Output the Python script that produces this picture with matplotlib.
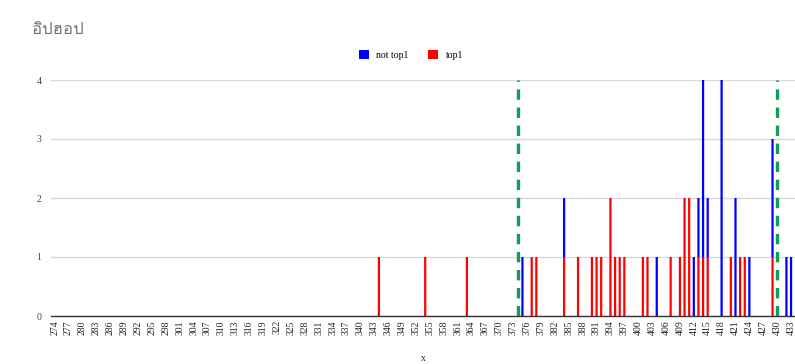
import matplotlib
matplotlib.use("Agg")
import matplotlib.pyplot as plt
from matplotlib.patches import Patch
from matplotlib import font_manager
from matplotlib.ft2font import FT2Font

# ---- data ----
title_text = "อิปฮอป"
tick_labels = list(range(274, 434, 3))
top1_x = [344, 354, 363, 377, 378, 384, 387, 390, 391, 392, 394, 395, 396, 397,
          401, 402, 407, 409, 410, 411, 413, 414, 415, 420, 422, 423, 429]
top1_counts = [1, 1, 1, 1, 1, 1, 1, 1, 1, 1, 2, 1, 1, 1,
               1, 1, 1, 1, 2, 2, 1, 1, 1, 1, 1, 1, 1]
not_top1_x = [375, 384, 404, 412, 413, 414, 415, 418, 421, 424, 429, 432, 433]
not_top1_counts = [1, 1, 1, 1, 1, 3, 1, 4, 2, 1, 2, 1, 1]
marker_x = [374, 430]
series_names = ["not top1", "top1"]

# ---- fonts ----
thai_family = None
for f in font_manager.fontManager.ttflist:
    try:
        ft = FT2Font(f.fname)
        cm = ft.get_charmap()
        if 0x0E2D in cm and 0x0E1B in cm:
            thai_family = f.name
            break
    except Exception:
        pass

serif = "Liberation Serif"
plt.rcParams['lines.scale_dashes'] = False

W, H = 795, 364
fig = plt.figure(figsize=(W / 100, H / 100), dpi=100)
left_px, right_px, top_px, bottom_px = 51, 795, 80, 316
ax = fig.add_axes([left_px / W, (H - bottom_px) / H,
                   (right_px - left_px) / W, (bottom_px - top_px) / H])

bw = 0.48
red_base = {x: c for x, c in zip(top1_x, top1_counts)}
red_bars = ax.bar(top1_x, top1_counts, width=bw, color="#ff0000", zorder=3, linewidth=0)
blue_bars = ax.bar(not_top1_x, not_top1_counts, width=bw,
                   bottom=[red_base.get(x, 0) for x in not_top1_x],
                   color="#0000ff", zorder=3, linewidth=0)
for p in list(red_bars) + list(blue_bars):
    p.set_snap(False)

for mx in marker_x:
    ax.plot([mx, mx], [0, 4], color="#0f9d58", lw=2.4, dashes=(7.5, 5.5),
            zorder=4, solid_capstyle="butt", dash_capstyle="butt")

ax.set_xlim(273.2, 433.85)
ax.set_ylim(0, 4)
ax.set_yticks([0, 1, 2, 3, 4])
ax.set_yticklabels(["0", "1", "2", "3", "4"], fontsize=7, family=serif, color="#444444")
ax.set_xticks(tick_labels)
ax.set_xticklabels([str(t) for t in tick_labels], rotation=90, fontsize=7,
                   family=serif, color="#222222")
ax.tick_params(axis="both", length=0, pad=3)
ax.tick_params(axis="y", pad=7)
ax.grid(axis="y", color="#d9d9d9", lw=1, zorder=0)
for s in ["top", "right", "left"]:
    ax.spines[s].set_visible(False)
ax.spines["bottom"].set_color("#333333")
ax.spines["bottom"].set_linewidth(1)
ax.spines["bottom"].set_zorder(5)

ax.set_xlabel("x", fontsize=7, family=serif, color="#222222", labelpad=14)

tf = [thai_family, "DejaVu Sans"] if thai_family else ["DejaVu Sans"]
fig.text(32 / W, 1 - 30 / H, title_text, fontsize=12, family=tf, color="#757575",
         va="center", ha="left")

handles = [Patch(facecolor="#0000ff", edgecolor="none"),
           Patch(facecolor="#ff0000", edgecolor="none")]
fig.legend(handles, series_names, loc="center", bbox_to_anchor=(411 / W, 1 - 55 / H),
           ncol=2, frameon=False, prop={"family": serif, "size": 7},
           handlelength=1.0, handleheight=1.0, handletextpad=0.8, columnspacing=2.0)

fig.savefig("out.png", dpi=100)
